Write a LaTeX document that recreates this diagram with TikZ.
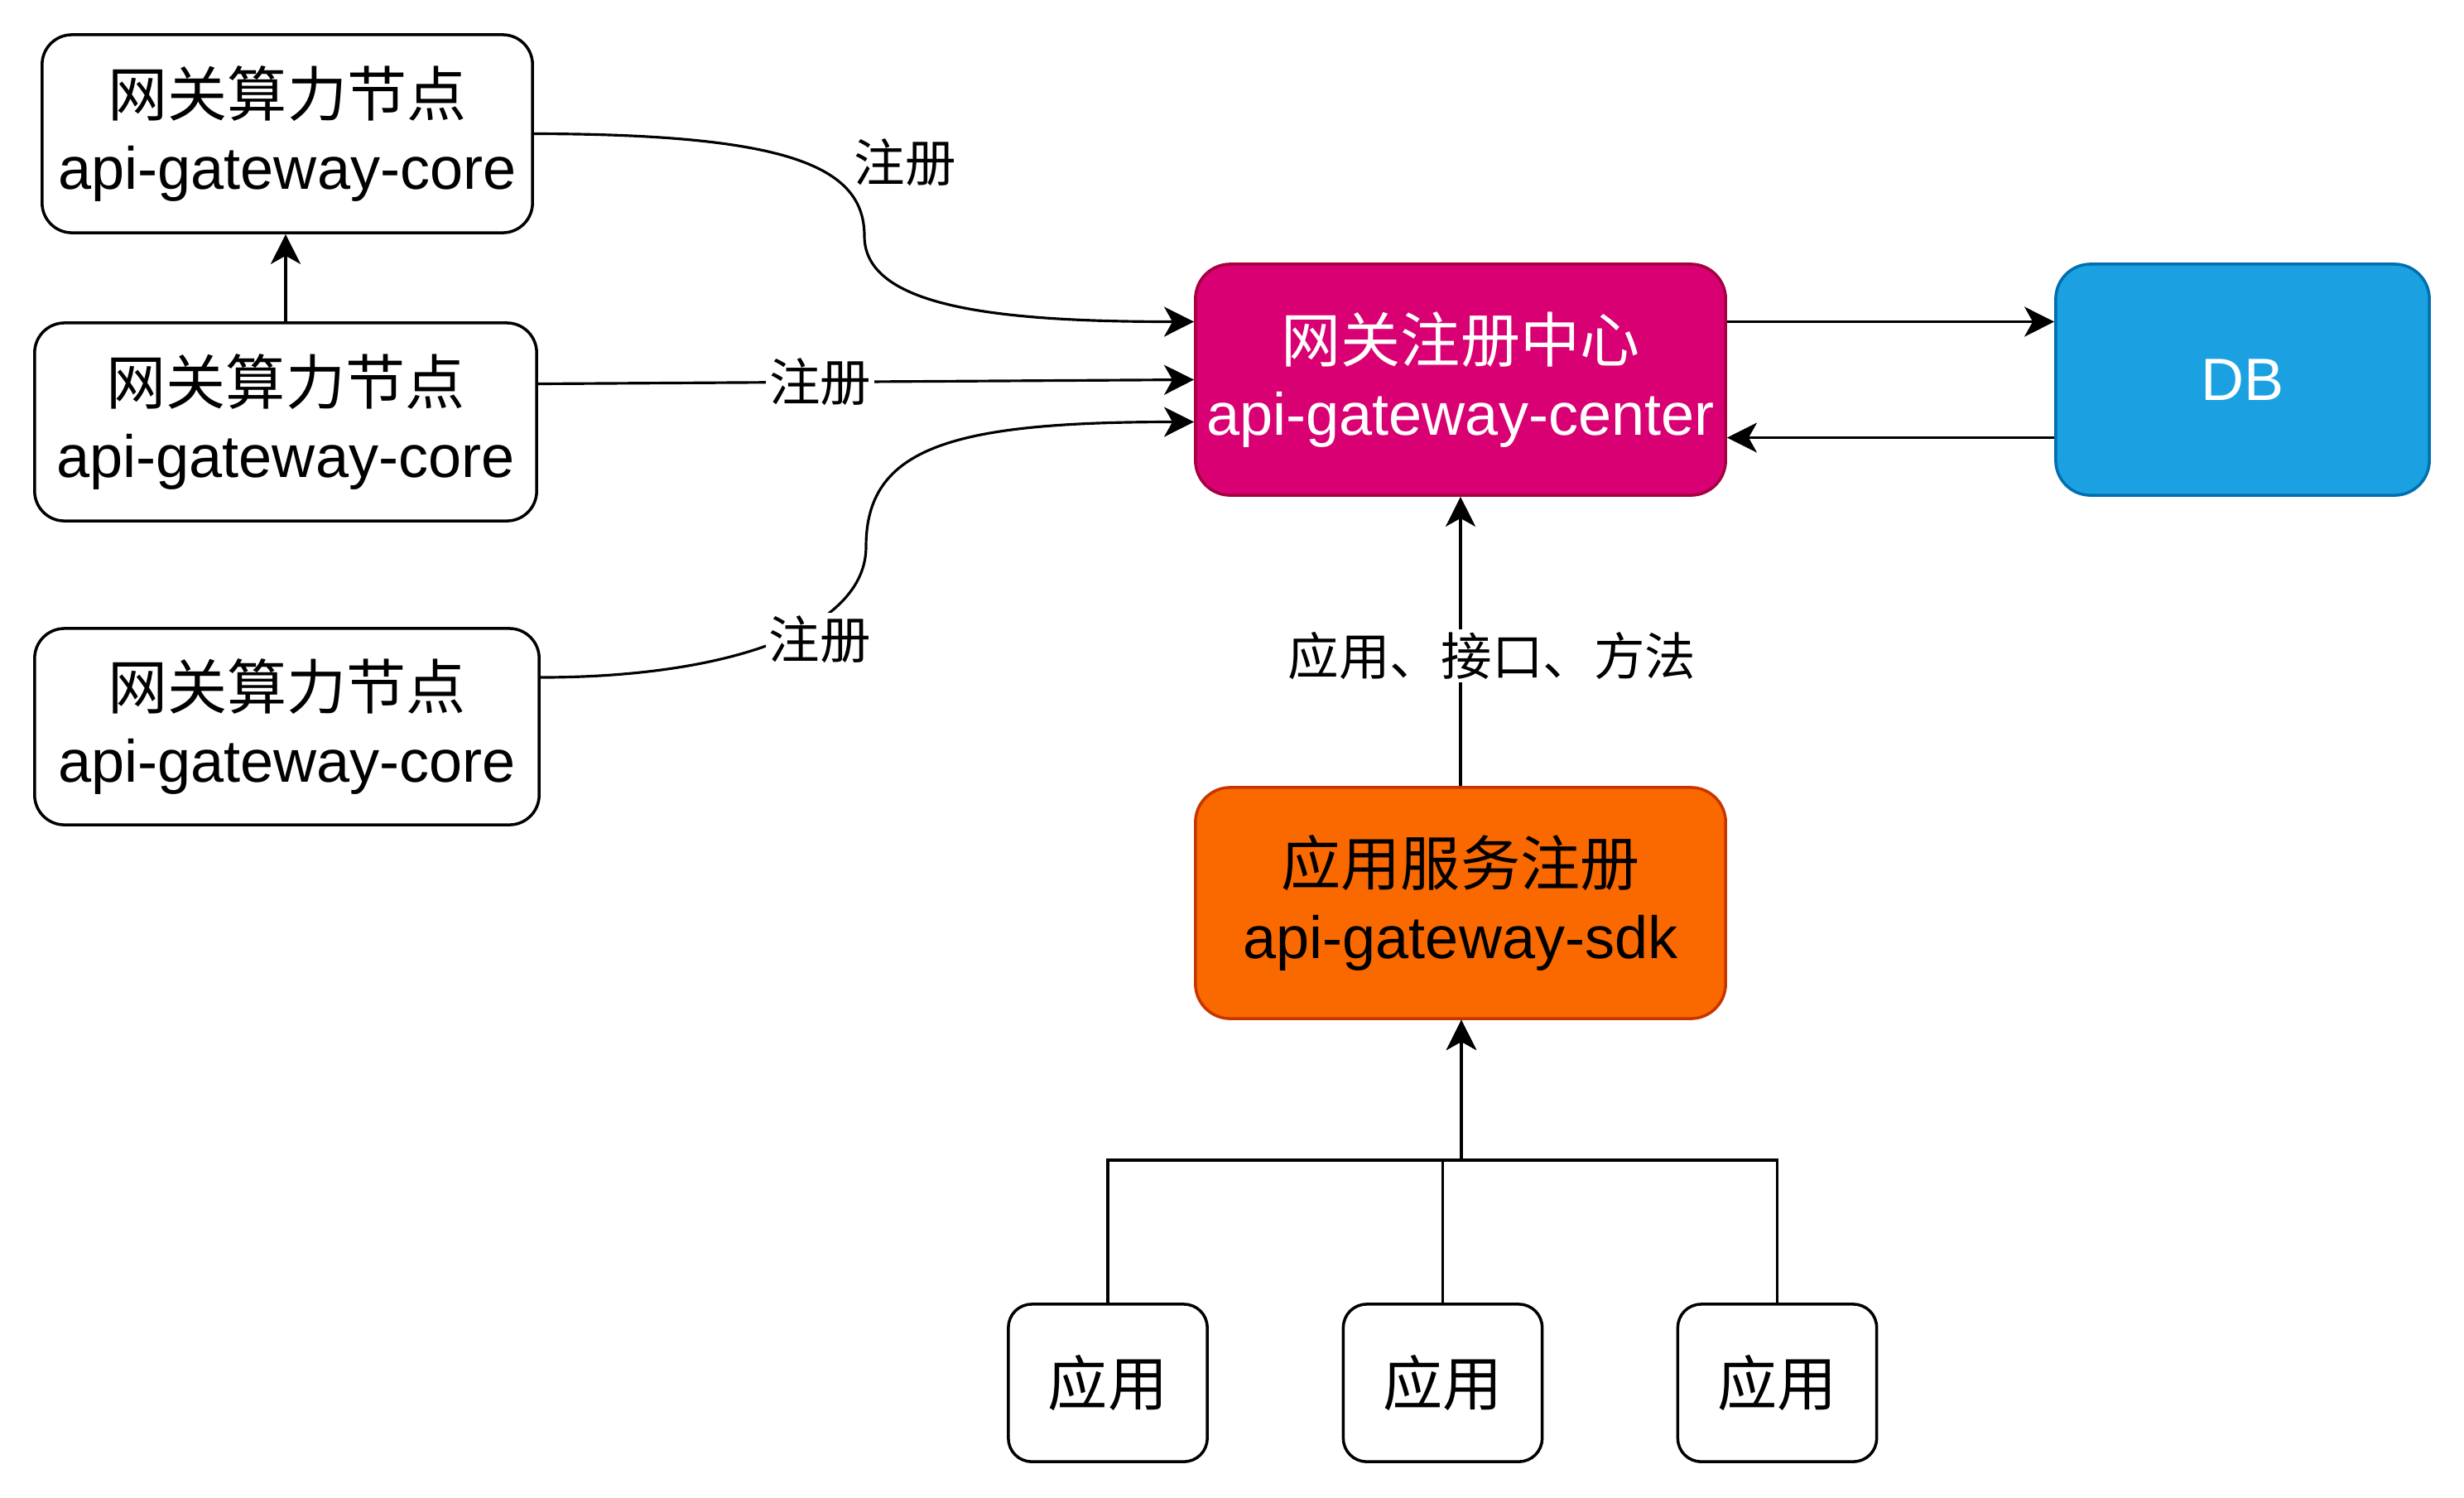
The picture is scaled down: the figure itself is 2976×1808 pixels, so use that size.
\documentclass[tikz,border=0pt]{standalone}
\usepackage{fontspec}
\setmainfont{Liberation Sans}
\newfontfamily\cjk{Noto Sans CJK SC}
\usetikzlibrary{arrows.meta,calc}

\definecolor{centerred}{HTML}{D80073}
\definecolor{centerline}{HTML}{A50040}
\definecolor{dbblue}{HTML}{1BA1E2}
\definecolor{dbline}{HTML}{006EAF}
\definecolor{sdkorange}{HTML}{FA6800}
\definecolor{sdkline}{HTML}{C73500}

\begin{document}
\begin{tikzpicture}[x=0.01cm,y=0.01cm,
    box/.style={shape=rectangle,draw=black,line width=1pt,fill=white,align=center,inner sep=0pt,font=\fontsize{20.5}{25}\selectfont},
    lbl/.style={fill=white,inner sep=1pt,font=\cjk\fontsize{17.5}{20}\selectfont},
    edge/.style={line width=0.9pt,-{Stealth[length=0.36cm,width=0.36cm,inset=0.1cm]}}]
    \useasboundingbox (0,0) rectangle (2976,-1808);
    % gateway core nodes
    \node[box,minimum width=5.92cm,minimum height=2.39cm,rounded corners=0.36cm](c1) at (347,-161.5) {{\cjk 网关算力节点}\\api-gateway-core};
    \node[box,minimum width=6.06cm,minimum height=2.39cm,rounded corners=0.36cm](c2) at (345,-509.5) {{\cjk 网关算力节点}\\api-gateway-core};
    \node[box,minimum width=6.09cm,minimum height=2.37cm,rounded corners=0.36cm](c3) at (346.5,-877.5) {{\cjk 网关算力节点}\\api-gateway-core};
    % center, db, sdk
    \node[box,draw=centerline,fill=centerred,text=white,minimum width=6.4cm,minimum height=2.79cm,rounded corners=0.42cm](center) at (1764,-458.5) {{\cjk 网关注册中心}\\api-gateway-center};
    \node[box,draw=dbline,fill=dbblue,text=white,minimum width=4.51cm,minimum height=2.79cm,rounded corners=0.42cm](db) at (2708.5,-458.5) {DB};
    \node[box,draw=sdkline,fill=sdkorange,minimum width=6.4cm,minimum height=2.79cm,rounded corners=0.42cm](sdk) at (1764,-1090.5) {{\cjk 应用服务注册}\\api-gateway-sdk};
    % apps
    \node[box,minimum width=2.4cm,minimum height=1.9cm,rounded corners=0.28cm](a1) at (1338,-1670) {\cjk 应用};
    \node[box,minimum width=2.4cm,minimum height=1.9cm,rounded corners=0.28cm](a2) at (1742.5,-1670) {\cjk 应用};
    \node[box,minimum width=2.4cm,minimum height=1.9cm,rounded corners=0.28cm](a3) at (2146.5,-1670) {\cjk 应用};
    \coordinate (junc) at (1765,-1401);

    \draw[edge] (c2.north) -- (c2.north |- c1.south);
    \draw[edge] (c1.east) .. controls (950,-162) and (1044,-200) .. (1044,-285)
        .. controls (1044,-370) and (1200,-388.5) .. ($(center.west)+(0,70)$);
    \node[lbl,fill=none](r1) at (1093,-196) {注册};
    \draw[edge] ($(c2.east)+(0,46)$) to node[lbl,pos=0.43](r2) {注册} (center.west);
    \draw[edge] ($(c3.east)+(0,59.5)$) .. controls (880,-818) and (1046,-760) .. (1046,-660)
        .. controls (1046,-540) and (1150,-509.5) .. ($(center.west)+(0,-51)$);
    \node[lbl](r3) at (990,-772) {注册};

    \draw[edge] ($(center.east)+(0,70)$) -- ($(db.west)+(0,70)$);
    \draw[edge] ($(db.west)+(0,-70)$) -- ($(center.east)+(0,-70)$);
    \draw[edge] (sdk.north) -- node[lbl,pos=0.45,xshift=0.38cm](r4) {应用、接口、方法} (center.south);

    \draw[edge] (a1.north) |- (junc) -- (junc |- sdk.south);
    \draw[edge] (a2.north) |- (junc) -- (junc |- sdk.south);
    \draw[edge] (a3.north) |- (junc) -- (junc |- sdk.south);
\end{tikzpicture}
\end{document}
